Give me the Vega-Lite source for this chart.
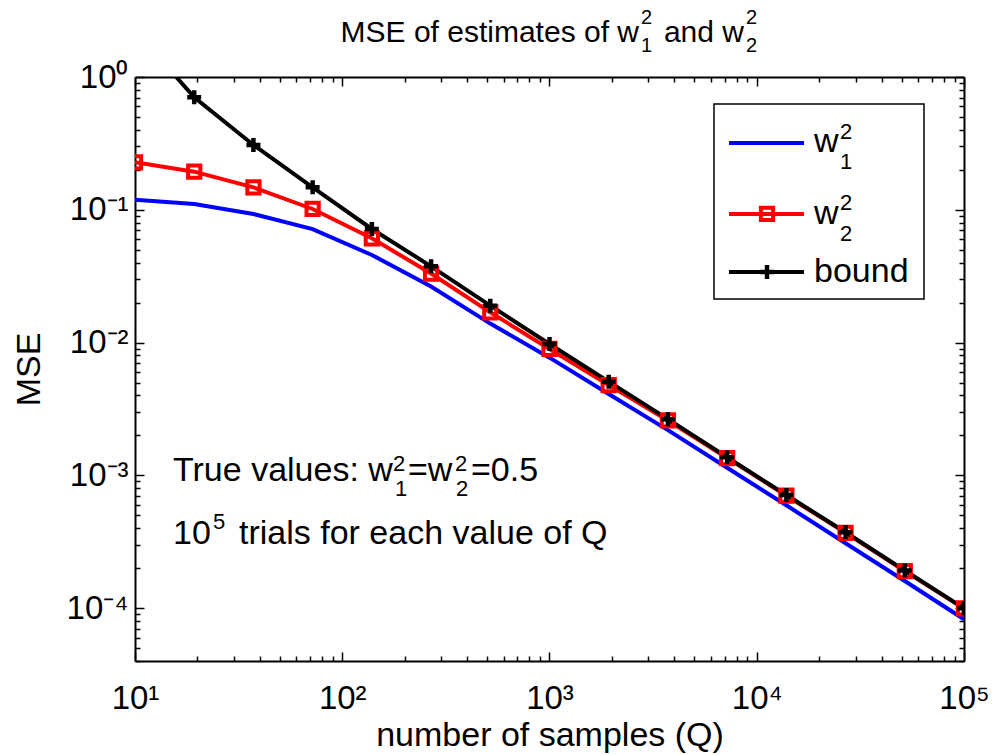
{
  "$schema": "https://vega.github.io/schema/vega-lite/v6.json",
  "width": 829,
  "height": 584,
  "padding": {"left": 12, "top": 8, "right": 2, "bottom": 2},
  "autosize": {"type": "pad"},
  "background": "white",
  "config": {
    "font": "Liberation Sans",
    "view": {"stroke": null},
    "axis": {
      "domainColor": "black", "domainWidth": 2, "tickColor": "black", "tickWidth": 1.5,
      "labelColor": "black", "titleColor": "black", "grid": false,
      "labelFont": "Liberation Sans", "titleFont": "Liberation Sans",
      "labelFontSize": 33, "titleFontSize": 34, "titleFontWeight": "normal"
    }
  },
  "datasets": {
    "series": [
      {"Q": 10, "series": "w1", "mse": 0.119},
      {"Q": 19.307, "series": "w1", "mse": 0.1106},
      {"Q": 37.276, "series": "w1", "mse": 0.0929},
      {"Q": 71.969, "series": "w1", "mse": 0.0716},
      {"Q": 138.95, "series": "w1", "mse": 0.0457},
      {"Q": 268.27, "series": "w1", "mse": 0.0264},
      {"Q": 517.95, "series": "w1", "mse": 0.0139},
      {"Q": 1000, "series": "w1", "mse": 0.0077},
      {"Q": 1930.7, "series": "w1", "mse": 0.0041},
      {"Q": 3727.6, "series": "w1", "mse": 0.00219},
      {"Q": 7196.9, "series": "w1", "mse": 0.00114},
      {"Q": 13895, "series": "w1", "mse": 0.000595},
      {"Q": 26827, "series": "w1", "mse": 0.000308},
      {"Q": 51795, "series": "w1", "mse": 0.00016},
      {"Q": 100000, "series": "w1", "mse": 0.0000825},
      {"Q": 10, "series": "w2", "mse": 0.2277},
      {"Q": 19.307, "series": "w2", "mse": 0.1936},
      {"Q": 37.276, "series": "w2", "mse": 0.1477},
      {"Q": 71.969, "series": "w2", "mse": 0.1014},
      {"Q": 138.95, "series": "w2", "mse": 0.061},
      {"Q": 268.27, "series": "w2", "mse": 0.0331},
      {"Q": 517.95, "series": "w2", "mse": 0.0169},
      {"Q": 1000, "series": "w2", "mse": 0.00895},
      {"Q": 1930.7, "series": "w2", "mse": 0.00478},
      {"Q": 3727.6, "series": "w2", "mse": 0.00259},
      {"Q": 7196.9, "series": "w2", "mse": 0.00135},
      {"Q": 13895, "series": "w2", "mse": 0.000703},
      {"Q": 26827, "series": "w2", "mse": 0.000369},
      {"Q": 51795, "series": "w2", "mse": 0.00019},
      {"Q": 100000, "series": "w2", "mse": 0.0000995},
      {"Q": 10, "series": "bound", "mse": 2.25},
      {"Q": 19.307, "series": "bound", "mse": 0.703},
      {"Q": 37.276, "series": "bound", "mse": 0.3077},
      {"Q": 71.969, "series": "bound", "mse": 0.1477},
      {"Q": 138.95, "series": "bound", "mse": 0.0717},
      {"Q": 268.27, "series": "bound", "mse": 0.0375},
      {"Q": 517.95, "series": "bound", "mse": 0.01897},
      {"Q": 1000, "series": "bound", "mse": 0.00976},
      {"Q": 1930.7, "series": "bound", "mse": 0.00508},
      {"Q": 3727.6, "series": "bound", "mse": 0.00265},
      {"Q": 7196.9, "series": "bound", "mse": 0.001368},
      {"Q": 13895, "series": "bound", "mse": 0.000711},
      {"Q": 26827, "series": "bound", "mse": 0.000373},
      {"Q": 51795, "series": "bound", "mse": 0.000192},
      {"Q": 100000, "series": "bound", "mse": 0.0000998}
    ],
    "legendBox": [
      {"xa": 6219, "xb": 64120, "ya": 0.626, "yb": 0.02129}
    ],
    "legendLines": [
      {"series": "w1", "xa": 7346, "xb": 16904, "xm": 11208, "y": 0.3184},
      {"series": "w2", "xa": 7346, "xb": 16904, "xm": 11208, "y": 0.09298},
      {"series": "bound", "xa": 7346, "xb": 16904, "xm": 11208, "y": 0.03401}
    ],
    "texts": [
      {"role": "title", "x": 2703, "y": 1.835, "text": "MSE of estimates of w"},
      {"role": "title", "x": 8679, "y": 1.835, "text": "and w"},
      {"role": "tscript", "x": 2764, "y": 2.506, "text": "2"},
      {"role": "tscript", "x": 2764, "y": 1.543, "text": "1"},
      {"role": "tscript", "x": 8875, "y": 2.506, "text": "2"},
      {"role": "tscript", "x": 8875, "y": 1.543, "text": "2"},
      {"role": "note", "x": 18889, "y": 0.2724, "text": "w"},
      {"role": "note", "x": 18889, "y": 0.07816, "text": "w"},
      {"role": "note", "x": 18889, "y": 0.02859, "text": "bound"},
      {"role": "script", "x": 25215, "y": 0.3413, "text": "2"},
      {"role": "script", "x": 25215, "y": 0.2029, "text": "1"},
      {"role": "script", "x": 25215, "y": 0.09966, "text": "2"},
      {"role": "script", "x": 25215, "y": 0.05823, "text": "2"},
      {"role": "note", "x": 15.26, "y": 0.0009074, "text": "True values: w"},
      {"role": "script", "x": 175.8, "y": 0.0010792, "text": "2"},
      {"role": "script", "x": 179.7, "y": 0.0006998, "text": "1"},
      {"role": "note", "x": 207.6, "y": 0.0009074, "text": "=w"},
      {"role": "script", "x": 349.9, "y": 0.0010792, "text": "2"},
      {"role": "script", "x": 353.8, "y": 0.0006998, "text": "2"},
      {"role": "note", "x": 418.0, "y": 0.0009074, "text": "=0.5"},
      {"role": "note", "x": 15.26, "y": 0.0003043, "text": "10"},
      {"role": "script", "x": 23.79, "y": 0.0003948, "text": "5"},
      {"role": "note", "x": 31.75, "y": 0.0003043, "text": "trials for each value of Q"}
    ]
  },
  "resolve": {"axis": {"x": "independent", "y": "independent"}},
  "layer": [
    {
      "layer": [
        {
          "data": {"name": "series"},
          "mark": {"type": "line", "strokeWidth": 4, "clip": true},
          "encoding": {
            "x": {
              "field": "Q", "type": "quantitative",
              "scale": {"type": "log", "domain": [10, 100000], "nice": false},
              "axis": {
                "orient": "bottom",
                "title": "number of samples (Q)",
                "titlePadding": -1,
                "values": [10,20,30,40,50,60,70,80,90,100,200,300,400,500,600,700,800,900,1000,2000,3000,4000,5000,6000,7000,8000,9000,10000,20000,30000,40000,50000,60000,70000,80000,90000,100000],
                "labelExpr": "abs(log(datum.value)/LN10 - round(log(datum.value)/LN10)) < 0.000001 ? '10' + ['⁰','¹','²','³','⁴','⁵'][round(log(datum.value)/LN10)] : ''",
                "tickSize": {"condition": {"test": "abs(log(datum.value)/LN10 - round(log(datum.value)/LN10)) < 0.000001", "value": -9}, "value": -5},
                "labelPadding": 30,
                "labelFlush": false,
                "labelOverlap": false
              }
            },
            "y": {
              "field": "mse", "type": "quantitative",
              "scale": {"type": "log", "domain": [0.00004, 1], "nice": false},
              "axis": {
                "orient": "left",
                "title": "MSE",
                "titlePadding": 20,
                "values": [0.00004,0.00005,0.00006,0.00007,0.00008,0.00009,0.0001,0.0002,0.0003,0.0004,0.0005,0.0006,0.0007,0.0008,0.0009,0.001,0.002,0.003,0.004,0.005,0.006,0.007,0.008,0.009,0.01,0.02,0.03,0.04,0.05,0.06,0.07,0.08,0.09,0.1,0.2,0.3,0.4,0.5,0.6,0.7,0.8,0.9,1],
                "labelExpr": "abs(log(datum.value)/LN10 - round(log(datum.value)/LN10)) < 0.000001 ? (round(log(datum.value)/LN10) == 0 ? '10⁰' : '10⁻' + ['⁰','¹','²','³','⁴','⁵'][-round(log(datum.value)/LN10)]) : ''",
                "tickSize": {"condition": {"test": "abs(log(datum.value)/LN10 - round(log(datum.value)/LN10)) < 0.000001", "value": -9}, "value": -5},
                "labelPadding": 16,
                "labelFlush": false,
                "labelOverlap": false
              }
            },
            "color": {
              "field": "series", "type": "nominal",
              "scale": {"domain": ["w1", "w2", "bound"], "range": ["#0000ff", "#ff0000", "#000000"]},
              "legend": null
            }
          }
        },
        {
          "data": {"name": "series"},
          "transform": [{"filter": "datum.series == 'w2'"}],
          "mark": {"type": "point", "shape": "square", "filled": false, "size": 150, "strokeWidth": 4, "color": "#ff0000", "opacity": 1, "clip": true},
          "encoding": {
            "x": {"field": "Q", "type": "quantitative"},
            "y": {"field": "mse", "type": "quantitative"}
          }
        },
        {
          "data": {"name": "series"},
          "transform": [{"filter": "datum.series == 'bound'"}],
          "mark": {"type": "point", "shape": "M-1,0L1,0M0,-1L0,1", "filled": false, "size": 196, "strokeWidth": 4.5, "color": "#000000", "opacity": 1, "clip": true},
          "encoding": {
            "x": {"field": "Q", "type": "quantitative"},
            "y": {"field": "mse", "type": "quantitative"}
          }
        },
        {
          "data": {"name": "legendBox"},
          "mark": {"type": "rect", "fill": "white", "stroke": "black", "strokeWidth": 1.5},
          "encoding": {
            "x": {"field": "xa", "type": "quantitative"},
            "x2": {"field": "xb"},
            "y": {"field": "ya", "type": "quantitative"},
            "y2": {"field": "yb"}
          }
        },
        {
          "data": {"name": "legendLines"},
          "mark": {"type": "rule", "strokeWidth": 4},
          "encoding": {
            "x": {"field": "xa", "type": "quantitative"},
            "x2": {"field": "xb"},
            "y": {"field": "y", "type": "quantitative"},
            "color": {"field": "series", "type": "nominal", "legend": null}
          }
        },
        {
          "data": {"name": "legendLines"},
          "transform": [{"filter": "datum.series == 'w2'"}],
          "mark": {"type": "point", "shape": "square", "filled": false, "size": 150, "strokeWidth": 4, "color": "#ff0000", "opacity": 1},
          "encoding": {
            "x": {"field": "xm", "type": "quantitative"},
            "y": {"field": "y", "type": "quantitative"}
          }
        },
        {
          "data": {"name": "legendLines"},
          "transform": [{"filter": "datum.series == 'bound'"}],
          "mark": {"type": "point", "shape": "M-1,0L1,0M0,-1L0,1", "filled": false, "size": 196, "strokeWidth": 4.5, "color": "#000000", "opacity": 1},
          "encoding": {
            "x": {"field": "xm", "type": "quantitative"},
            "y": {"field": "y", "type": "quantitative"}
          }
        },
        {
          "data": {"name": "texts"},
          "transform": [{"filter": "datum.role == 'title'"}],
          "mark": {"type": "text", "align": "right", "baseline": "alphabetic", "fontSize": 30, "color": "black"},
          "encoding": {
            "x": {"field": "x", "type": "quantitative"},
            "y": {"field": "y", "type": "quantitative"},
            "text": {"field": "text"}
          }
        },
        {
          "data": {"name": "texts"},
          "transform": [{"filter": "datum.role == 'tscript'"}],
          "mark": {"type": "text", "align": "left", "baseline": "alphabetic", "fontSize": 20, "color": "black"},
          "encoding": {
            "x": {"field": "x", "type": "quantitative"},
            "y": {"field": "y", "type": "quantitative"},
            "text": {"field": "text"}
          }
        },
        {
          "data": {"name": "texts"},
          "transform": [{"filter": "datum.role == 'note'"}],
          "mark": {"type": "text", "align": "left", "baseline": "alphabetic", "fontSize": 34, "color": "black"},
          "encoding": {
            "x": {"field": "x", "type": "quantitative"},
            "y": {"field": "y", "type": "quantitative"},
            "text": {"field": "text"}
          }
        },
        {
          "data": {"name": "texts"},
          "transform": [{"filter": "datum.role == 'script'"}],
          "mark": {"type": "text", "align": "left", "baseline": "alphabetic", "fontSize": 22, "color": "black"},
          "encoding": {
            "x": {"field": "x", "type": "quantitative"},
            "y": {"field": "y", "type": "quantitative"},
            "text": {"field": "text"}
          }
        }
      ]
    },
    {
      "data": {"name": "series"},
      "mark": {"type": "point", "opacity": 0},
      "encoding": {
        "x": {
          "field": "Q", "type": "quantitative",
          "scale": {"type": "log", "domain": [10, 100000], "nice": false},
          "axis": {
            "orient": "top", "title": null, "labels": false,
            "values": [10,20,30,40,50,60,70,80,90,100,200,300,400,500,600,700,800,900,1000,2000,3000,4000,5000,6000,7000,8000,9000,10000,20000,30000,40000,50000,60000,70000,80000,90000,100000],
            "tickSize": {"condition": {"test": "abs(log(datum.value)/LN10 - round(log(datum.value)/LN10)) < 0.000001", "value": -9}, "value": -5}
          }
        },
        "y": {
          "field": "mse", "type": "quantitative",
          "scale": {"type": "log", "domain": [0.00004, 1], "nice": false},
          "axis": {
            "orient": "right", "title": null, "labels": false,
            "values": [0.00004,0.00005,0.00006,0.00007,0.00008,0.00009,0.0001,0.0002,0.0003,0.0004,0.0005,0.0006,0.0007,0.0008,0.0009,0.001,0.002,0.003,0.004,0.005,0.006,0.007,0.008,0.009,0.01,0.02,0.03,0.04,0.05,0.06,0.07,0.08,0.09,0.1,0.2,0.3,0.4,0.5,0.6,0.7,0.8,0.9,1],
            "tickSize": {"condition": {"test": "abs(log(datum.value)/LN10 - round(log(datum.value)/LN10)) < 0.000001", "value": -9}, "value": -5}
          }
        }
      }
    }
  ]
}
